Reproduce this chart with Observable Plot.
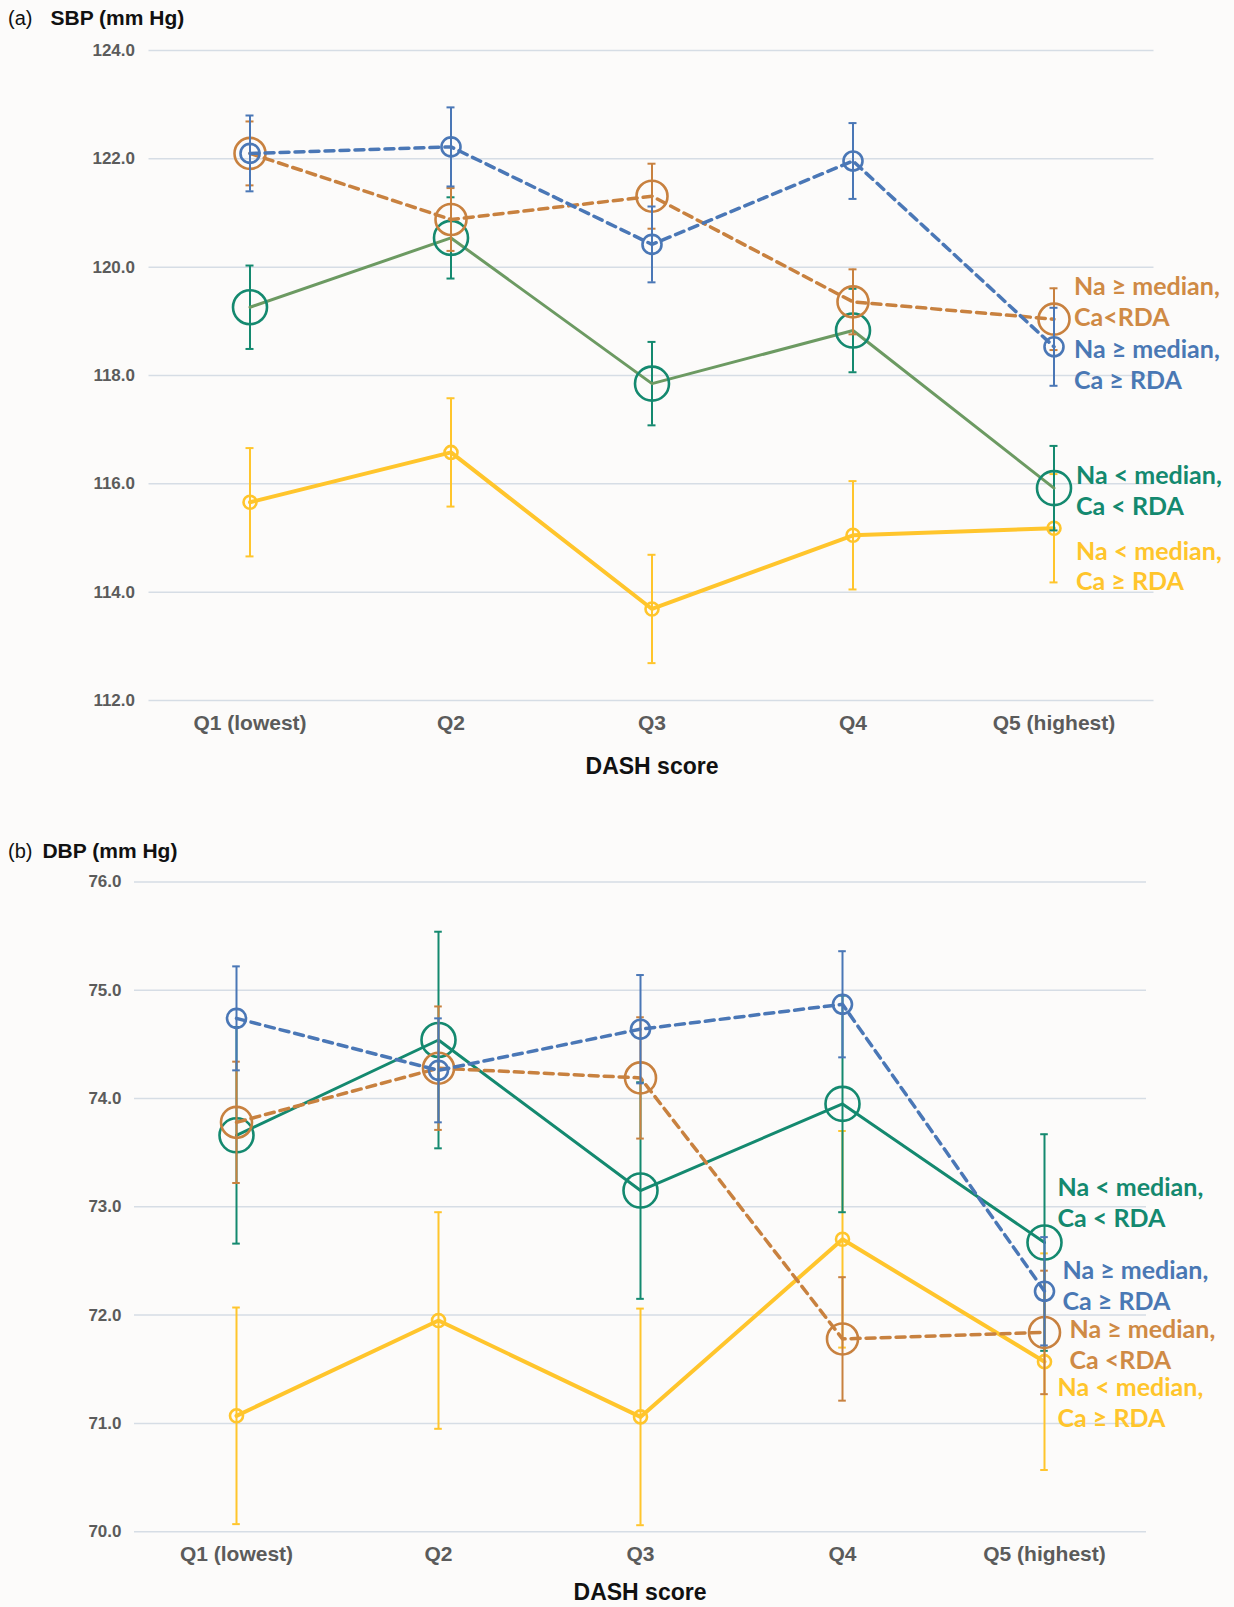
<!DOCTYPE html>
<html><head><meta charset="utf-8">
<script src="https://cdn.jsdelivr.net/npm/d3@7"></script>
<script src="https://cdn.jsdelivr.net/npm/@observablehq/plot@0.6"></script>
<style>
body{margin:0;background:#FCFBFA;}
#root{position:relative;width:1234px;height:1607px;background:#FCFBFA;font-family:"Liberation Sans",Arial,sans-serif;overflow:hidden}
.panel{position:absolute;left:0}
.title{position:absolute;left:8px;font-size:20px;color:#111;white-space:pre;line-height:24px}
.title b{font-weight:bold;font-size:21px}
.xlab{position:absolute;font-size:23px;font-weight:bold;color:#111;transform:translateX(-50%);white-space:nowrap;line-height:26px}
</style></head><body>
<div id="root">
 <div class="panel" id="pa" style="top:0"></div>
 <div class="panel" id="pb" style="top:800px"></div>
 <div class="title" style="top:6px">(a)<b style="margin-left:18px">SBP (mm Hg)</b></div>
 <div class="title" style="top:839px">(b)<b style="margin-left:10px">DBP (mm Hg)</b></div>
 <div class="xlab" style="top:753px;left:652px">DASH score</div>
 <div class="xlab" style="top:1579px;left:640px">DASH score</div>
</div>
<script>
// ---- categories ----
const quintiles = ["Q1 (lowest)", "Q2", "Q3", "Q4", "Q5 (highest)"];
const groupKeys = ["blue", "orange", "green", "yellow"];
const groupLabelsA = ["Na \u2265 median,\nCa \u2265 RDA", "Na \u2265 median,\nCa<RDA", "Na < median,\nCa < RDA", "Na < median,\nCa \u2265 RDA"];
const groupLabelsB = ["Na \u2265 median,\nCa \u2265 RDA", "Na \u2265 median,\nCa <RDA", "Na < median,\nCa < RDA", "Na < median,\nCa \u2265 RDA"];

// ---- (a) SBP values ----
const sbpBlue = [122.10, 122.22, 120.42, 121.96, 118.53];
const sbpBlueErr = [0.70, 0.73, 0.70, 0.70, 0.72];
const sbpOrange = [122.10, 120.88, 121.31, 119.36, 119.04];
const sbpOrangeErr = [0.59, 0.58, 0.60, 0.60, 0.57];
const sbpGreen = [119.26, 120.54, 117.85, 118.83, 115.92];
const sbpGreenErr = [0.77, 0.75, 0.77, 0.77, 0.78];
const sbpYellow = [115.66, 116.58, 113.69, 115.05, 115.18];
const sbpYellowErr = [1.00, 1.00, 1.00, 1.00, 1.00];
const sbpTicks = [112, 114, 116, 118, 120, 122, 124];
const sbpLabelY = [118.22, 119.38, 115.90, 114.50];

// ---- (b) DBP values ----
const dbpBlue = [74.74, 74.26, 74.64, 74.87, 72.22];
const dbpBlueErr = [0.48, 0.48, 0.50, 0.49, 0.50];
const dbpOrange = [73.78, 74.28, 74.19, 71.78, 71.84];
const dbpOrangeErr = [0.56, 0.57, 0.56, 0.57, 0.57];
const dbpGreen = [73.66, 74.54, 73.15, 73.95, 72.67];
const dbpGreenErr = [1.00, 1.00, 1.00, 1.00, 1.00];
const dbpYellow = [71.07, 71.95, 71.06, 72.70, 71.57];
const dbpYellowErr = [1.00, 1.00, 1.00, 1.00, 1.00];
const dbpTicks = [70, 71, 72, 73, 74, 75, 76];
const dbpLabelY = [72.28, 71.74, 73.05, 71.20];

// ---- styles ----
const colors = {blue: "#4A77B6", orange: "#C8813F", green: "#14896F", yellow: "#FFC52C"};
const textColors = {blue: "#4A78B4", orange: "#CF8A45", green: "#14896F", yellow: "#FFC52C"};
const radius = {blue: 9.5, orange: 15.5, green: 17, yellow: 6.5};
const dashed = {blue: true, orange: true, green: false, yellow: false};
const lineWidth = {blue: 3.5, orange: 3.5, green: 3, yellow: 4};

function rows(means, errs) {
  return quintiles.map((q, i) => ({q, mean: means[i], lo: means[i] - errs[i], hi: means[i] + errs[i]}));
}

function panel(cfg) {
  const {el, series, ticks, labels, labelY, labelDx, height, mt, mb, ml, mr, greenLine, tickPad, xPad} = cfg;
  const width = 1234;
  const bw = (width - ml - mr) / quintiles.length;
  const inset = bw / 2 - 4;
  const marks = [
    Plot.gridY(ticks, {stroke: "#D6DDE5", strokeOpacity: 1, strokeWidth: 1.5}),
    Plot.axisY(ticks, {tickSize: 0, tickPadding: tickPad, tickFormat: d => d.toFixed(1), fontSize: 17, fontWeight: "bold", fill: "#5B5B5B", label: null}),
    Plot.axisX({tickSize: 0, tickPadding: xPad, fontSize: 21, fontWeight: "bold", fill: "#5B5B5B", label: null})
  ];
  const order = ["yellow", "green", "orange", "blue"];
  for (const key of order) {
    const data = series[key];
    const c = colors[key];
    const lc = key === "green" ? greenLine : c;
    marks.push(
      Plot.ruleX(data, {x: "q", y1: "lo", y2: "hi", stroke: c, strokeWidth: 2}),
      Plot.tickY(data, {x: "q", y: "lo", stroke: c, strokeWidth: 2, insetLeft: inset, insetRight: inset}),
      Plot.tickY(data, {x: "q", y: "hi", stroke: c, strokeWidth: 2, insetLeft: inset, insetRight: inset}),
      Plot.line(data, {x: "q", y: "mean", stroke: lc, strokeWidth: lineWidth[key], strokeDasharray: dashed[key] ? "9,6" : null}),
      Plot.dot(data, {x: "q", y: "mean", r: radius[key], stroke: c, strokeWidth: 2.6, fill: "none"})
    );
  }
  const labelRows = groupKeys.map((k, i) => ({k, q: quintiles[4], y: labelY[i], text: labels[i], dx: labelDx[i]}));
  for (const lr of labelRows) {
    marks.push(Plot.text([lr], {x: "q", y: "y", text: "text", dx: lr.dx, textAnchor: "start", lineAnchor: "middle",
      fill: textColors[lr.k], fontSize: 25, fontWeight: "bold", fontFamily: "Lato, sans-serif", lineHeight: 1.24}));
  }
  const chart = Plot.plot({
    width, height,
    marginTop: mt, marginBottom: mb, marginLeft: ml, marginRight: mr,
    style: {background: "transparent", fontFamily: "'Liberation Sans', Arial, sans-serif", overflow: "visible"},
    x: {type: "band", domain: quintiles, padding: 0, label: null},
    y: {domain: [ticks[0], ticks[ticks.length - 1]], label: null},
    marks
  });
  document.getElementById(el).appendChild(chart);
}

panel({
  el: "pa",
  series: {blue: rows(sbpBlue, sbpBlueErr), orange: rows(sbpOrange, sbpOrangeErr), green: rows(sbpGreen, sbpGreenErr), yellow: rows(sbpYellow, sbpYellowErr)},
  ticks: sbpTicks, labels: groupLabelsA, labelY: sbpLabelY, labelDx: [20, 20, 22, 22],
  height: 790, mt: 50, mb: 90, ml: 148.5, mr: 80.5, greenLine: "#6C9A62", tickPad: 14, xPad: 15
});
panel({
  el: "pb",
  series: {blue: rows(dbpBlue, dbpBlueErr), orange: rows(dbpOrange, dbpOrangeErr), green: rows(dbpGreen, dbpGreenErr), yellow: rows(dbpYellow, dbpYellowErr)},
  ticks: dbpTicks, labels: groupLabelsB, labelY: dbpLabelY, labelDx: [18, 25, 13, 13],
  height: 807, mt: 81.4, mb: 75.8, ml: 134, mr: 88, greenLine: "#14896F", tickPad: 13, xPad: 14
});
</script>
</body></html>
